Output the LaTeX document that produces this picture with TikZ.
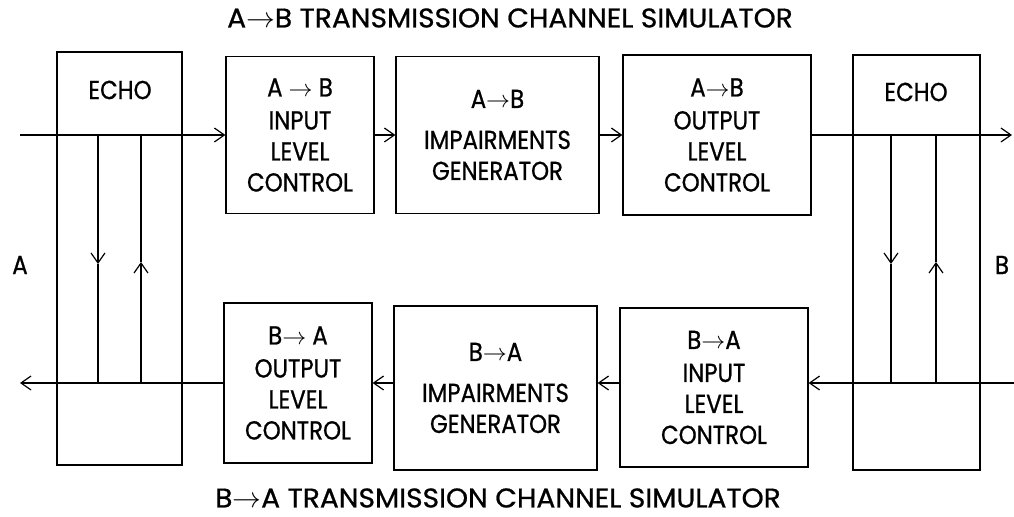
\documentclass[tikz,border=0pt]{standalone}
\usepackage{fontspec}
\setmainfont{Poppins}
\newfontfamily\boxfont{Poppins}[FakeStretch=0.88, FakeBold=0.8]
\newfontfamily\titlefont{Poppins}[FakeStretch=1.04, FakeBold=0.8]
\usetikzlibrary{arrows.meta}
\begin{document}
\begin{tikzpicture}[x=0.5pt,y=-0.5pt,
  txt/.style={font=\boxfont\fontsize{13}{16}\selectfont, align=center, inner sep=0pt},
  ttl/.style={font=\titlefont\fontsize{13.5}{16}\selectfont, align=center, inner sep=0pt},
  box/.style={draw, line width=0.6pt, inner sep=0pt, align=center, font=\boxfont\fontsize{13}{15.5}\selectfont},
  sig/.style={line width=0.6pt},
  arr/.style={sig, -{Straight Barb[length=5pt,width=7pt]}}]
\useasboundingbox (0,0) rectangle (1014,517);

% titles
\node[ttl] (ttop) at (510,18) {A$\rightarrow$B TRANSMISSION CHANNEL SIMULATOR};
\node[ttl] (tbot) at (498,498) {B$\rightarrow$A TRANSMISSION CHANNEL SIMULATOR};

% echo boxes
\node[box, minimum width=62.5pt, minimum height=206.5pt] (echoA) at (119.5,258.5) {};
\node[box, minimum width=63.5pt, minimum height=207.5pt] (echoB) at (916.5,262.5) {};
\node[txt] (echoAlab) at (120,90) {ECHO};
\node[txt] (echoBlab) at (916,92) {ECHO};
\node[txt] (labA) at (20,265) {A};
\node[txt] (labB) at (1002,265) {B};

% top row
\node[box, minimum width=74pt, minimum height=78.5pt] (tin) at (300,135)
  {A $\rightarrow$ B\\[1pt] INPUT\\ LEVEL\\ CONTROL};
\node[box, minimum width=101.5pt, minimum height=78.5pt] (timp) at (497.5,135)
  {A$\rightarrow$B\\[5pt] IMPAIRMENTS\\ GENERATOR};
\node[box, minimum width=94pt, minimum height=80pt] (tout) at (717,135)
  {A$\rightarrow$B\\[1pt] OUTPUT\\ LEVEL\\ CONTROL};

% bottom row
\node[box, minimum width=74pt, minimum height=80pt] (bout) at (298,383)
  {B$\rightarrow$ A\\[1pt] OUTPUT\\ LEVEL\\ CONTROL};
\node[box, minimum width=101.5pt, minimum height=82pt] (bimp) at (495.5,388)
  {B$\rightarrow$A\\[5pt] IMPAIRMENTS\\ GENERATOR};
\node[box, minimum width=94pt, minimum height=79.5pt] (bin) at (714,387.5)
  {B$\rightarrow$A\\[1pt] INPUT\\ LEVEL\\ CONTROL};

% coordinates
\coordinate (inA) at (20,135);
\coordinate (outB) at (1012,135);
\coordinate (inB) at (1014,383);
\coordinate (outA) at (20,383);
\coordinate (a1t) at (98,135);  \coordinate (a1m) at (98,264);  \coordinate (a1b) at (98,383);
\coordinate (a2t) at (141,135); \coordinate (a2m) at (141,262); \coordinate (a2b) at (141,383);
\coordinate (b1t) at (891,135); \coordinate (b1m) at (891,264); \coordinate (b1b) at (891,383);
\coordinate (b2t) at (936,135); \coordinate (b2m) at (936,262); \coordinate (b2b) at (936,383);

% top signal path
\draw[arr] (inA) -- (tin.west);
\draw[arr] (tin.east) -- (timp.west);
\draw[arr] (timp.east) -- (tout.west);
\draw[arr] (tout.east) -- (outB);

% bottom signal path
\draw[arr] (inB) -- (bin.east |- inB);
\draw[arr] (bin.west |- inB) -- (bimp.east |- inB);
\draw[arr] (bimp.west |- inB) -- (bout.east |- inB);
\draw[arr] (bout.west |- inB) -- (outA);

% echo paths
\draw[arr] (a1t) -- (a1m); \draw[sig] (a1m) -- (a1b);
\draw[arr] (a2b) -- (a2m); \draw[sig] (a2m) -- (a2t);
\draw[arr] (b1t) -- (b1m); \draw[sig] (b1m) -- (b1b);
\draw[arr] (b2b) -- (b2m); \draw[sig] (b2m) -- (b2t);
\end{tikzpicture}
\end{document}
